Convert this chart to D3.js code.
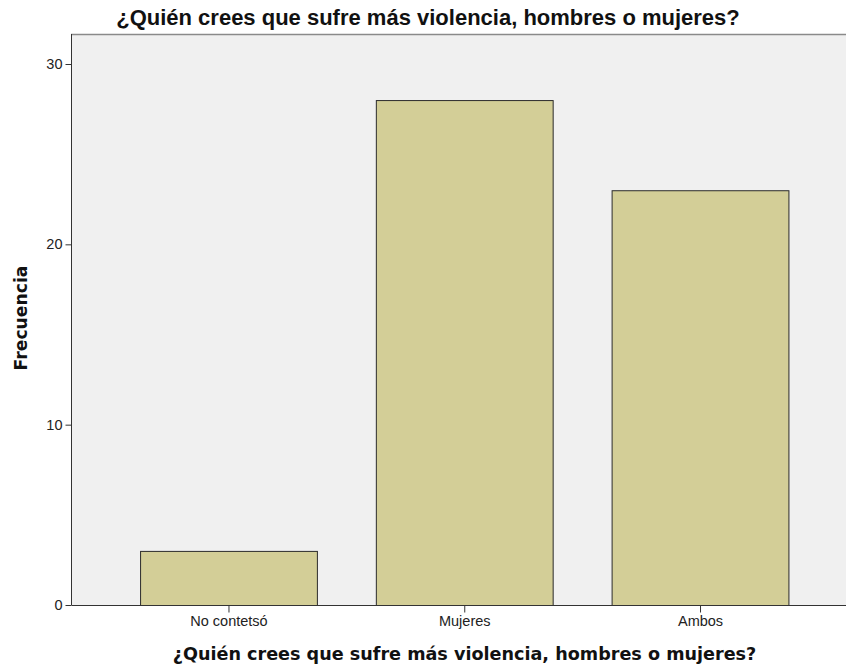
<!DOCTYPE html>
<html><head><meta charset="utf-8">
<script src="https://cdn.jsdelivr.net/npm/d3@7"></script>
<style>body{margin:0;background:#fff}</style>
</head><body>
<svg id="c" width="846" height="672"></svg>
<script>
const categories = ["No contetsó", "Mujeres", "Ambos"];
const values = [3, 28, 23];
const yTicks = [0, 10, 20, 30];
const title = "¿Quién crees que sufre más violencia, hombres o mujeres?";
const yTitle = "Frecuencia";

const svg = d3.select("#c");
const plot = {left: 71, right: 846, top: 34, bottom: 605};
const x = d3.scaleBand().domain(categories).range([110.6, 817.9]).paddingInner(0.25).paddingOuter(0.125);
const y = d3.scaleLinear().domain([0, 30]).range([605, 64]);

svg.append("rect").attr("x", plot.left).attr("y", plot.top)
  .attr("width", plot.right - plot.left).attr("height", plot.bottom - plot.top).attr("fill", "#f0f0f0");
svg.append("line").attr("x1", plot.left).attr("x2", plot.right).attr("y1", plot.top + 0.5).attr("y2", plot.top + 0.5)
  .attr("stroke", "#8a8a8a").attr("stroke-width", 1.5);

svg.selectAll("rect.bar").data(values).join("rect").attr("class", "bar")
  .attr("x", (d, i) => x(categories[i]) + 0.5)
  .attr("y", d => y(d) + 0.5)
  .attr("width", x.bandwidth())
  .attr("height", d => y(0) - y(d))
  .attr("fill", "#d3ce97").attr("stroke", "#2b2b2b").attr("stroke-width", 1);

const tickFont = "Liberation Sans, Arial, sans-serif";
const yAxis = d3.axisLeft(y).tickValues(yTicks).tickSize(6).tickPadding(3).tickFormat(d3.format("d"));
const gy = svg.append("g").attr("transform", `translate(${plot.left + 0.5},0)`).call(yAxis);
gy.select(".domain").attr("d", `M0,${plot.top}V${plot.bottom}`).attr("stroke", "#333");
gy.selectAll(".tick line").attr("stroke", "#333");
gy.selectAll("text").attr("font-family", tickFont).attr("font-size", 14.5).attr("fill", "#222");

const xAxis = d3.axisBottom(x).tickSize(7).tickPadding(3);
const gx = svg.append("g").attr("transform", `translate(0.5,${plot.bottom + 0.5})`).call(xAxis);
gx.select(".domain").attr("d", `M${plot.left},0H${plot.right}`).attr("stroke", "#333");
gx.selectAll(".tick line").attr("stroke", "#333");
gx.selectAll("text").attr("font-family", tickFont).attr("font-size", 14.5).attr("fill", "#222");

svg.append("text").attr("x", 428).attr("y", 25).attr("text-anchor", "middle")
  .attr("font-family", "Liberation Sans, Arial, sans-serif").attr("font-weight", "bold").attr("font-size", 22)
  .attr("fill", "#111").text(title);
svg.append("text").attr("x", 464.5).attr("y", 660).attr("text-anchor", "middle")
  .attr("font-family", "DejaVu Sans, sans-serif").attr("font-weight", "bold").attr("font-size", 17.6)
  .attr("fill", "#111").text(title);
svg.append("text").attr("transform", "translate(27,318) rotate(-90)").attr("text-anchor", "middle")
  .attr("font-family", "DejaVu Sans, sans-serif").attr("font-weight", "bold").attr("font-size", 17.2)
  .attr("fill", "#111").text(yTitle);
</script>
</body></html>
